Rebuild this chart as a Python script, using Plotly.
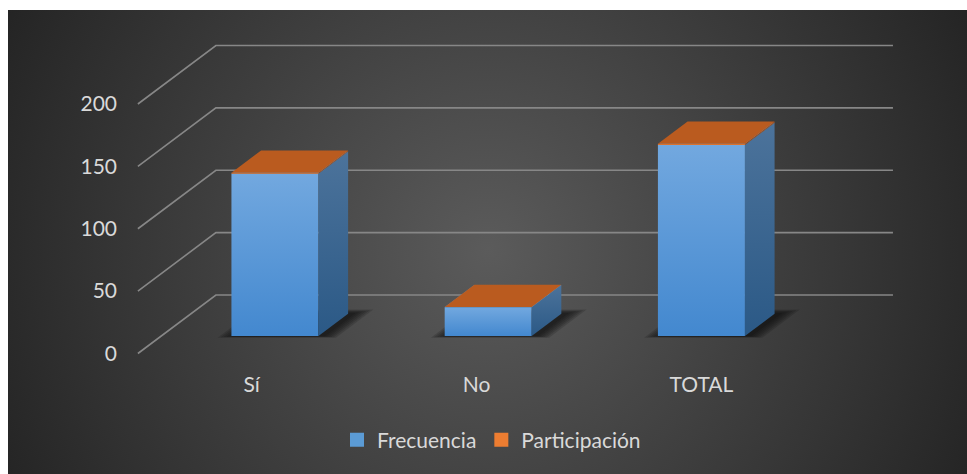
import base64
import plotly.graph_objects as go

# ---- data -------------------------------------------------------------
categories = ["Sí", "No", "TOTAL"]
frecuencia = [130, 23, 153]
participacion = [0.85, 0.15, 1.00]
y_ticks = [0, 50, 100, 150, 200]

# ---- oblique 3-D projection (category units on x, value units on y) ---
PX_PER_CAT = 213.2
PX_PER_VAL = 1.2475
DEPTH_X = 78 / PX_PER_CAT          # x shift of the full floor depth
DEPTH_Y = 58.5 / PX_PER_VAL        # y shift of the full floor depth
BAR_HALF = 43.5 / PX_PER_CAT
D_FRONT, D_BACK = 0.30, 0.68       # bar depth span inside the floor
FLOOR_LEFT = -0.533
FLOOR_RIGHT_BACK = 3.008
LABEL_SPREAD = 1.055

W, H = 967, 474
ML, MR, MT, MB = 130, 67, 40, 114
X_RANGE = [-0.570, 3.041]
Y_RANGE = [-5.21, 251.3]

FONT = "Lato"
TEXT = "#d9d9d9"


def proj(c, v, d):
    return c + d * DEPTH_X, v + d * DEPTH_Y


def poly(points):
    xs, ys = zip(*[proj(*p) for p in points])
    return list(xs) + [xs[0]], list(ys) + [ys[0]]


fig = go.Figure()

# back-wall grid lines with their diagonal returns to the value labels
for v in y_ticks:
    x0, y0 = proj(FLOOR_LEFT, v, 0)
    x1, y1 = proj(FLOOR_LEFT, v, 1)
    fig.add_trace(go.Scatter(
        x=[x0, x1, FLOOR_RIGHT_BACK], y=[y0, y1, y1], mode="lines",
        line=dict(color="rgba(135,135,135,1)", width=1.6),
        hoverinfo="skip", showlegend=False))

# soft floor shadows under each column
for i, _ in enumerate(categories):
    for k in range(6):
        ex = (k + 1) * 2.6 / PX_PER_CAT
        ed = (k + 1) * 0.012
        sh = 4 / PX_PER_CAT
        xs, ys = poly([
            (i - BAR_HALF - ex + sh, 0, D_FRONT - ed * 0.4),
            (i + BAR_HALF + ex + sh, 0, D_FRONT - ed * 0.4),
            (i + BAR_HALF + ex + sh, 0, D_BACK + ed),
            (i - BAR_HALF - ex + sh, 0, D_BACK + ed),
        ])
        fig.add_trace(go.Scatter(
            x=xs, y=ys, mode="lines", fill="toself",
            fillcolor="rgba(10,10,10,0.17)", line=dict(width=0),
            hoverinfo="skip", showlegend=False))

series = [
    dict(name="Frecuencia", values=frecuencia,
         front=("#4388cf", "#72a8df"), side=("#2b5986", "#4c739b"),
         top="#5b9bd5", legend="#5b9bd5"),
    dict(name="Participación", values=participacion,
         front=("#d86a24", "#e27a33"), side=("#8f4416", "#a0501e"),
         top="#ba5b1f", legend="#ed7d31"),
]

# stacked 3-D columns: front, right side and top face of every segment
for i, _ in enumerate(categories):
    base = 0.0
    for s in series:
        top = base + s["values"][i]
        l, r = i - BAR_HALF, i + BAR_HALF
        xs, ys = poly([(l, base, D_FRONT), (r, base, D_FRONT),
                       (r, top, D_FRONT), (l, top, D_FRONT)])
        fig.add_trace(go.Scatter(
            x=xs, y=ys, mode="lines", fill="toself", line=dict(width=0),
            fillgradient=dict(type="vertical",
                              colorscale=[[0, s["front"][0]], [1, s["front"][1]]]),
            hoverinfo="skip", showlegend=False))
        xs, ys = poly([(r, base, D_FRONT), (r, base, D_BACK),
                       (r, top, D_BACK), (r, top, D_FRONT)])
        fig.add_trace(go.Scatter(
            x=xs, y=ys, mode="lines", fill="toself", line=dict(width=0),
            fillgradient=dict(type="vertical",
                              colorscale=[[0, s["side"][0]], [1, s["side"][1]]]),
            hoverinfo="skip", showlegend=False))
        xs, ys = poly([(l, top, D_FRONT), (r, top, D_FRONT),
                       (r, top, D_BACK), (l, top, D_BACK)])
        fig.add_trace(go.Scatter(
            x=xs, y=ys, mode="lines", fill="toself", line=dict(width=0),
            fillcolor=s["top"], hoverinfo="skip", showlegend=False))
        base = top

# legend entries
for s in series:
    fig.add_trace(go.Scatter(
        x=[None], y=[None], mode="markers", name=s["name"],
        marker=dict(symbol="square", size=14, color=s["legend"])))

# radial background panel
svg = (
    '<svg xmlns="http://www.w3.org/2000/svg" width="959" height="464" '
    'viewBox="0 0 959 464" preserveAspectRatio="none">'
    '<defs><radialGradient id="g" gradientUnits="userSpaceOnUse" '
    'cx="480" cy="240" r="560">'
    '<stop offset="0" stop-color="#5b5b5b"/>'
    '<stop offset="1" stop-color="#222222"/></radialGradient></defs>'
    '<rect width="959" height="464" fill="url(#g)"/></svg>'
)
src = "data:image/svg+xml;base64," + base64.b64encode(svg.encode()).decode()
pw, ph = W - ML - MR, H - MT - MB
fig.add_layout_image(dict(
    source=src, xref="paper", yref="paper",
    x=(8 - ML) / pw, y=(H - MB - 10) / ph,
    sizex=959 / pw, sizey=464 / ph,
    xanchor="left", yanchor="top", sizing="stretch", layer="below"))

fig.update_layout(
    width=W, height=H,
    margin=dict(l=ML, r=MR, t=MT, b=MB, pad=0),
    paper_bgcolor="white", plot_bgcolor="rgba(0,0,0,0)",
    font=dict(family=FONT, size=21, color=TEXT),
    showlegend=True,
    legend=dict(orientation="h", x=(337 - ML) / pw, xanchor="left",
                y=(H - MB - 440) / ph, yanchor="middle",
                bgcolor="rgba(0,0,0,0)", font=dict(size=21, color=TEXT),
                itemclick=False, itemdoubleclick=False),
    xaxis=dict(range=X_RANGE, showgrid=False, zeroline=False, showline=False,
               tickmode="array",
               tickvals=[i * LABEL_SPREAD for i in range(len(categories))],
               ticktext=categories, ticks="", ticklabelstandoff=10,
               fixedrange=True),
    yaxis=dict(range=Y_RANGE, showgrid=False, zeroline=False, showline=False,
               tickmode="array", tickvals=y_ticks, ticks="",
               ticklabelstandoff=12, fixedrange=True),
)

fig.write_html("out.html")
